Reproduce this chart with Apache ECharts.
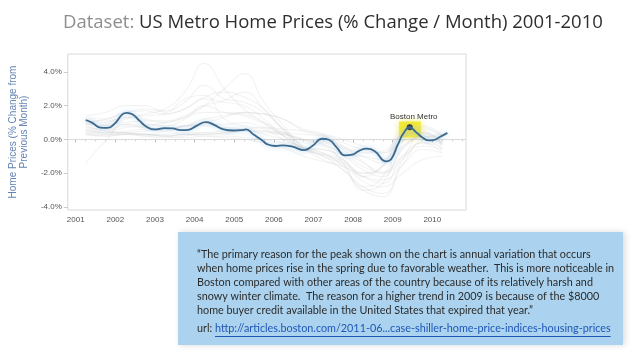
<!DOCTYPE html>
<html><head><meta charset="utf-8">
<script src="https://cdn.jsdelivr.net/npm/echarts@6/dist/echarts.min.js"></script>
<style>html,body{margin:0;padding:0;background:#fff}#c{width:640px;height:360px}</style>
</head><body><div id="c"></div>
<script>
// ---------------- data ----------------
const yearTicks = [2001, 2002, 2003, 2004, 2005, 2006, 2007, 2008, 2009, 2010];
const valueTicks = [-4, -2, 0, 2, 4];

// Boston Metro (% change / month), x = decimal year
const bostonYears = [2001.25, 2001.42, 2001.62, 2001.80, 2002.00, 2002.17, 2002.29, 2002.44, 2002.62, 2002.79,
  2002.99, 2003.24, 2003.44, 2003.66, 2003.84, 2004.06, 2004.28, 2004.48, 2004.73, 2004.98,
  2005.18, 2005.30, 2005.48, 2005.70, 2005.85, 2006.05, 2006.22, 2006.47, 2006.77, 2006.97,
  2007.22, 2007.39, 2007.59, 2007.79, 2008.01, 2008.14, 2008.34, 2008.54, 2008.84, 2008.96,
  2009.13, 2009.28, 2009.43, 2009.58, 2009.76, 2009.91, 2010.03, 2010.20, 2010.38];
const bostonValues = [1.15, 0.98, 0.70, 0.68, 0.98, 1.47, 1.57, 1.47, 1.08, 0.75,
  0.59, 0.67, 0.65, 0.55, 0.57, 0.82, 1.02, 0.88, 0.60, 0.53,
  0.55, 0.59, 0.30, -0.05, -0.30, -0.39, -0.35, -0.43, -0.63, -0.39,
  0.04, -0.02, -0.49, -0.94, -0.88, -0.69, -0.55, -0.68, -1.30, -1.18,
  -0.30, 0.39, 0.72, 0.45, 0.10, -0.06, -0.04, 0.16, 0.39];
const bostonPeak = [2009.43, 0.72];
const highlightBox = [[2009.16, 1.06], [2009.71, 0.12]];

// other US metros, sampled every half year
const metroYears = [2001.25, 2001.75, 2002.25, 2002.75, 2003.25, 2003.75, 2004.25, 2004.75, 2005.25, 2005.75,
  2006.25, 2006.75, 2007.25, 2007.75, 2008.25, 2008.75, 2009.25, 2009.75, 2010.25];
const metroLV = [1.0, 0.8, 1.2, 1.5, 1.8, 2.8, 4.5, 3.0, 1.8, 1.0, 0.2, -0.6, -1.2, -1.8, -2.8, -3.2, -1.5, 0.0, 0.3];
const metroPHX = [0.6, 0.5, 0.7, 0.8, 1.0, 1.3, 2.0, 3.0, 3.9, 2.2, 0.8, -0.5, -1.0, -1.8, -3.0, -3.4, -1.2, 0.2, 0.1];
const metroMIA = [1.2, 1.1, 1.3, 1.4, 1.5, 1.8, 2.5, 2.8, 2.5, 1.8, 0.6, -0.5, -1.0, -1.5, -2.5, -2.8, -2.0, -1.2, -1.0];
const metroLA = [1.0, 1.2, 1.6, 1.8, 1.7, 2.2, 3.2, 2.4, 2.2, 1.6, 0.6, -0.4, -0.8, -1.6, -2.8, -2.2, 0.2, 0.8, 0.3];
const metroSD = [1.4, 1.6, 2.0, 2.0, 1.6, 2.4, 2.6, 1.2, 0.8, 0.6, 0.0, -0.5, -0.6, -1.2, -2.2, -1.5, 0.5, 0.6, 0.2];
const metroSF = [-1.4, -0.1, 0.9, 0.9, 0.8, 1.2, 2.0, 1.6, 1.4, 0.9, 0.2, -0.2, -0.4, -1.4, -3.0, -2.6, 0.4, 0.7, 0.2];
const metroWDC = [1.3, 1.2, 1.6, 1.7, 1.5, 1.8, 2.4, 2.2, 2.0, 1.2, 0.2, -0.5, -0.8, -1.2, -2.0, -1.6, 0.0, 0.4, -0.2];
const metroTPA = [0.9, 0.9, 1.0, 1.1, 1.1, 1.4, 2.0, 2.3, 2.8, 1.8, 0.5, -0.6, -0.9, -1.4, -2.2, -2.4, -1.5, -0.6, -0.8];
const metroSEA = [0.5, 0.4, 0.5, 0.6, 0.5, 0.8, 1.2, 1.4, 1.6, 1.5, 1.2, 0.6, 0.3, -0.6, -1.4, -1.9, -1.0, -0.4, -0.6];
const metroPDX = [0.4, 0.3, 0.4, 0.5, 0.6, 0.8, 1.0, 1.3, 1.6, 1.5, 1.2, 0.5, 0.2, -0.4, -1.3, -2.0, -1.2, -0.2, -0.5];
const metroCHI = [0.7, 0.6, 0.8, 0.7, 0.6, 0.8, 0.9, 0.9, 1.0, 0.7, 0.4, 0.0, -0.3, -0.8, -1.6, -2.0, -0.6, 0.2, -0.4];
const metroMSP = [0.9, 0.8, 0.9, 0.7, 0.6, 0.8, 0.8, 0.7, 0.6, 0.3, 0.0, -0.5, -0.9, -1.3, -2.0, -1.6, 0.3, 0.5, -0.3];
const metroDEN = [0.8, 0.5, 0.4, 0.2, 0.1, 0.2, 0.4, 0.3, 0.5, 0.4, 0.3, 0.0, -0.1, -0.4, -0.8, -0.7, 0.3, 0.4, 0.0];
const metroDAL = [0.4, 0.3, 0.3, 0.2, 0.2, 0.3, 0.3, 0.4, 0.5, 0.5, 0.4, 0.3, 0.2, -0.2, -0.6, -0.8, 0.2, 0.3, -0.2];
const metroATL = [0.5, 0.4, 0.4, 0.3, 0.3, 0.4, 0.4, 0.5, 0.6, 0.5, 0.3, 0.0, -0.3, -0.9, -1.8, -2.2, -0.5, 0.1, -0.6];
const metroDET = [0.6, 0.4, 0.4, 0.3, 0.2, 0.1, 0.2, 0.1, 0.0, -0.2, -0.5, -1.0, -1.3, -1.6, -2.2, -2.6, -1.0, -0.2, -0.8];
const metroCLE = [0.3, 0.2, 0.3, 0.3, 0.2, 0.3, 0.2, 0.2, 0.1, 0.0, -0.2, -0.5, -0.6, -0.9, -1.0, -1.2, 0.2, 0.4, -0.3];
const metroNY = [1.1, 1.0, 1.3, 1.2, 1.0, 1.3, 1.6, 1.6, 1.5, 1.0, 0.4, -0.1, -0.2, -0.5, -1.0, -1.4, -0.4, 0.2, -0.2];
const metroCLT = [0.3, 0.2, 0.3, 0.3, 0.2, 0.3, 0.3, 0.4, 0.6, 0.7, 0.6, 0.5, 0.3, 0.0, -0.4, -0.8, -0.1, 0.1, -0.3];
const otherMetros = [metroLV, metroPHX, metroMIA, metroLA, metroSD, metroSF, metroWDC, metroTPA, metroSEA, metroPDX,
  metroCHI, metroMSP, metroDEN, metroDAL, metroATL, metroDET, metroCLE, metroNY, metroCLT];

const titleLead = 'Dataset: ';
const titleMain = 'US Metro Home Prices (% Change / Month) 2001-2010';
const yAxisName = 'Home Prices (% Change from\nPrevious Month)';
const peakLabel = 'Boston Metro';
const quoteLines = [
  '\u201CThe primary reason for the peak shown on the chart is annual variation that occurs',
  'when home prices rise in the spring due to favorable weather.  This is more noticeable in',
  'Boston compared with other areas of the country because of its relatively harsh and',
  'snowy winter climate.  The reason for a higher trend in 2009 is because of the $8000',
  'home buyer credit available in the United States that expired that year.\u201D'
];
const urlLead = 'url: ';
const urlText = 'http://articles.boston.com/2011-06...case-shiller-home-price-indices-housing-prices';

// ---------------- chart ----------------
const zip = (xs, ys) => xs.map((x, i) => [x, ys[i]]);
const boxFont = '10.8px Lato';
const measure = (font, s) => { const c = document.createElement('canvas').getContext('2d'); c.font = font; return c.measureText(s).width; };

const series = otherMetros.map(v => ({
  type: 'line', data: zip(metroYears, v), smooth: 0.5, showSymbol: false, silent: true,
  lineStyle: { color: 'rgba(200,200,200,0.22)', width: 1.1 }, z: 2
}));
series.push({
  type: 'line', name: peakLabel, data: zip(bostonYears, bostonValues), smooth: 0.5, showSymbol: false,
  lineStyle: { color: '#3d6a8c', width: 1.8, shadowColor: 'rgba(150,195,235,0.8)', shadowBlur: 5 }, z: 5,
  markLine: { silent: true, symbol: 'none', label: { show: false },
    lineStyle: { color: '#dadada', width: 1, type: 'solid' }, data: [{ yAxis: 0 }], z: 1 },
  markArea: { silent: true, itemStyle: { color: 'rgba(240,232,40,0.85)', shadowColor: 'rgba(240,232,40,0.9)', shadowBlur: 6 },
    data: [[{ coord: highlightBox[0] }, { coord: highlightBox[1] }]] },
  markPoint: { symbol: 'circle', symbolSize: 6, itemStyle: { color: '#222' },
    label: { show: true, position: 'top', distance: 3, offset: [4, 0], formatter: peakLabel, color: '#333', fontSize: 8, fontFamily: 'Liberation Sans' },
    data: [{ coord: bostonPeak }] }
});

const chart = echarts.init(document.getElementById('c'), null, { renderer: 'canvas' });
const urlLeadW = measure(boxFont, urlLead);
const urlW = measure(boxFont, urlText);
const boxGraphics = [
  { type: 'rect', left: 178, top: 232, shape: { width: 445, height: 113 },
    style: { fill: '#abd3ef', shadowColor: 'rgba(0,0,0,0.15)', shadowBlur: 6, shadowOffsetX: 2 } }
].concat(quoteLines.map((t, i) => ({
  type: 'text', left: 197, top: 249 + i * 14, style: { text: t, font: boxFont, fill: '#2b2b2b' }
}))).concat([
  { type: 'text', left: 197, top: 323, style: { text: urlLead, font: boxFont, fill: '#2b2b2b' } },
  { type: 'text', left: 197 + urlLeadW, top: 323, style: { text: urlText, font: boxFont, fill: '#1f57b8' } },
  { type: 'line', shape: { x1: 197 + urlLeadW, y1: 336.5, x2: 197 + urlLeadW + urlW, y2: 336.5 }, style: { stroke: '#1f57b8', lineWidth: 1 } }
]);

chart.setOption({
  animation: false,
  backgroundColor: '#fff',
  title: {
    left: 58, top: 8,
    text: '{a|' + titleLead + '}{b|' + titleMain + '}',
    textStyle: { fontWeight: 'normal', rich: {
      a: { fontFamily: 'Open Sans', fontSize: 18.5, fontWeight: 'normal', color: '#8e8e8e' },
      b: { fontFamily: 'Open Sans', fontSize: 18.5, fontWeight: 'normal', color: '#2e2e2e' } } }
  },
  grid: { left: 62, right: 174, top: 54, bottom: 150, show: true, borderColor: '#d8d8d8', borderWidth: 1, backgroundColor: '#fff' },
  xAxis: {
    type: 'value', min: 2000.8, max: 2010.85, splitNumber: 10,
    axisLine: { show: false }, splitLine: { show: false },
    axisTick: { show: true, length: 3, lineStyle: { color: '#bbb' }, customValues: yearTicks },
    minorTick: { show: true, splitNumber: 4, length: 2, lineStyle: { color: '#d0d0d0' } },
    axisLabel: { customValues: yearTicks, formatter: v => String(v), color: '#555', fontSize: 8, fontFamily: 'Liberation Sans', margin: 6 }
  },
  yAxis: {
    type: 'value', min: -4.18, max: 5.06,
    name: yAxisName, nameLocation: 'middle', nameRotate: 90, nameGap: 34,
    nameTextStyle: { color: '#6384b4', fontSize: 10, fontFamily: 'Liberation Sans', lineHeight: 11 },
    axisLine: { show: false }, splitLine: { show: false },
    axisTick: { show: true, length: 4, lineStyle: { color: '#ccc' }, customValues: valueTicks },
    axisLabel: { customValues: valueTicks, formatter: v => v.toFixed(1) + '%', color: '#555', fontSize: 8, fontFamily: 'Liberation Sans', margin: 6 }
  },
  series: series,
  graphic: boxGraphics
});
</script>
</body></html>
